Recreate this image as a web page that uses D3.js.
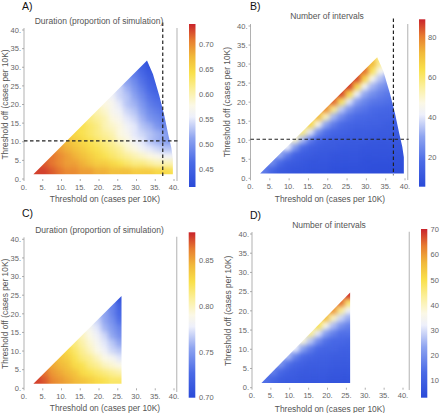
<!DOCTYPE html>
<html><head><meta charset="utf-8">
<script src="https://cdn.jsdelivr.net/npm/d3@7/dist/d3.min.js"></script>
<style>body{margin:0;background:#fff}svg{display:block}text{font-family:"Liberation Sans",Arial,sans-serif}</style>
</head><body>
<svg id="c" width="440" height="413"></svg>
<script>
const _ = null;
// bin lower edges (cases per 10K), bin width 2
const binSize = 2;
const onBins  = [2.5,4.5,6.5,8.5,10.5,12.5,14.5,16.5,18.5,20.5,22.5,24.5,26.5,28.5,30.5,32.5,34.5,36.5,38.5];
const offBins = [1.25,3.25,5.25,7.25,9.25,11.25,13.25,15.25,17.25,19.25,21.25,23.25,25.25,27.25,29.25,31.25];

// data region outlines [on, off]
const regionAB = [[2.5,1.25],[32.8,31.8],[34.4,28.1],[36.1,22.3],[37.4,17.1],[38.5,11.8],[39.3,8.3],[39.7,5.5],[39.7,1.25]];
const regionCD = [[2.5,1.25],[26,24.75],[26,1.25]];

// A) duration (rows = off bins, cols = on bins)
const durationA = [
 [.73,.73,.72,.71,.70,.70,.69,.69,.68,.68,.67,.67,.67,.66,.66,.66,.65,.65,.64],
 [_,.72,.71,.70,.69,.69,.68,.67,.66,.66,.65,.64,.63,.62,.62,.61,.60,.60,.60],
 [_,_,.71,.70,.69,.68,.67,.66,.65,.64,.63,.62,.61,.60,.59,.58,.57,.56,.56],
 [_,_,_,.69,.68,.67,.66,.65,.64,.63,.62,.61,.59,.58,.56,.55,.54,.53,.53],
 [_,_,_,_,.67,.66,.65,.64,.63,.62,.61,.59,.58,.56,.55,.53,.52,.51,.50],
 [_,_,_,_,_,.65,.64,.63,.62,.61,.60,.58,.57,.55,.54,.53,.52,.51,.50],
 [_,_,_,_,_,_,.64,.63,.62,.60,.59,.58,.56,.55,.53,.52,.50,.49],
 [_,_,_,_,_,_,_,.62,.61,.60,.58,.57,.55,.54,.52,.50,.49,.48],
 [_,_,_,_,_,_,_,_,.60,.59,.57,.56,.54,.53,.51,.49,.48,.47],
 [_,_,_,_,_,_,_,_,_,.58,.57,.55,.53,.52,.50,.48,.47,.46],
 [_,_,_,_,_,_,_,_,_,_,.56,.54,.53,.51,.49,.47,.46],
 [_,_,_,_,_,_,_,_,_,_,_,.54,.52,.50,.48,.46,.45],
 [_,_,_,_,_,_,_,_,_,_,_,_,.51,.49,.47,.45,.44],
 [_,_,_,_,_,_,_,_,_,_,_,_,_,.48,.46,.44],
 [_,_,_,_,_,_,_,_,_,_,_,_,_,_,.45,.43],
 [_,_,_,_,_,_,_,_,_,_,_,_,_,_,_,.42]
];
// B) number of intervals
const intervalsB = [
 [22,16,12,11,10,10,9,9,9,8,8,8,8,8,7,7,7,7,7],
 [_,26,18,13,12,11,10,10,10,9,9,9,9,8,8,8,8,8,8],
 [_,_,32,22,15,13,12,11,11,10,10,10,10,9,9,9,9,9,9],
 [_,_,_,42,28,18,14,13,12,12,11,11,11,10,10,10,10,10,10],
 [_,_,_,_,50,34,22,16,14,13,13,12,12,12,11,11,11,11,11],
 [_,_,_,_,_,58,40,26,19,16,15,14,13,13,13,12,12,12,12],
 [_,_,_,_,_,_,66,46,30,22,18,16,15,15,14,14,13,13],
 [_,_,_,_,_,_,_,72,52,33,25,20,18,17,16,15,15,14],
 [_,_,_,_,_,_,_,_,78,57,36,27,22,20,18,17,16,16],
 [_,_,_,_,_,_,_,_,_,83,62,40,29,24,21,20,19,18],
 [_,_,_,_,_,_,_,_,_,_,86,65,42,31,26,23,21],
 [_,_,_,_,_,_,_,_,_,_,_,87,66,44,33,28,25],
 [_,_,_,_,_,_,_,_,_,_,_,_,86,66,45,35,30],
 [_,_,_,_,_,_,_,_,_,_,_,_,_,82,62,44],
 [_,_,_,_,_,_,_,_,_,_,_,_,_,_,72,56],
 [_,_,_,_,_,_,_,_,_,_,_,_,_,_,_,58]
];
// C) duration
const durationC = [
 [.875,.87,.86,.855,.85,.845,.84,.835,.83,.825,.82,.82],
 [_,.865,.855,.85,.845,.84,.83,.825,.82,.815,.81,.805],
 [_,_,.85,.845,.84,.83,.825,.815,.81,.80,.795,.79],
 [_,_,_,.84,.835,.825,.815,.81,.80,.79,.785,.775],
 [_,_,_,_,.83,.82,.81,.80,.79,.78,.77,.765],
 [_,_,_,_,_,.815,.805,.795,.785,.775,.765,.755],
 [_,_,_,_,_,_,.80,.79,.78,.77,.755,.745],
 [_,_,_,_,_,_,_,.785,.775,.76,.75,.74],
 [_,_,_,_,_,_,_,_,.77,.755,.745,.73],
 [_,_,_,_,_,_,_,_,_,.755,.74,.725],
 [_,_,_,_,_,_,_,_,_,_,.74,.72],
 [_,_,_,_,_,_,_,_,_,_,_,.71]
];
// D) number of intervals
const intervalsD = [
 [14,11,9,8,8,7,7,7,7,6,6,6],
 [_,17,12,10,9,8,8,8,8,7,7,7],
 [_,_,21,14,11,10,9,9,9,8,8,8],
 [_,_,_,26,17,13,11,10,10,9,9,9],
 [_,_,_,_,32,22,16,12,11,11,10,10],
 [_,_,_,_,_,38,27,19,14,12,12,11],
 [_,_,_,_,_,_,44,31,22,17,14,14],
 [_,_,_,_,_,_,_,50,36,26,20,17],
 [_,_,_,_,_,_,_,_,56,40,29,24],
 [_,_,_,_,_,_,_,_,_,61,44,32],
 [_,_,_,_,_,_,_,_,_,_,65,47],
 [_,_,_,_,_,_,_,_,_,_,_,69]
];

const axisTicks = [0,5,10,15,20,25,30,35,40];
const thresholdOn = 37, thresholdOff = 10.25;
const legendA = {domain:[0.414,0.741], ticks:[0.45,0.50,0.55,0.60,0.65,0.70], fmt:d3.format(".2f")};
const legendB = {domain:[5.5,89], ticks:[20,40,60,80], fmt:d3.format("d")};
const legendC = {domain:[0.70,0.881], ticks:[0.70,0.75,0.80,0.85], fmt:d3.format(".2f")};
const legendD = {domain:[2.9,70.3], ticks:[10,20,30,40,50,60,70], fmt:d3.format("d")};

// Temperature-map style palette
const palT = [0,0.15,0.30,0.43,0.50,0.60,0.70,0.80,0.90,1];
const palC = ["#2a4ad8","#4a6ae6","#8ea4f0","#eef0fb","#fbf8e6","#fbef9a","#f9e04a","#f1b93a","#e77c30","#c9232b"];
const pal = d3.scaleLinear().domain(palT).range(palC).clamp(true);

const svg = d3.select("#c");
const defs = svg.append("defs");
const flt = defs.append("filter").attr("id","smooth").attr("color-interpolation-filters","sRGB")
  .attr("x","-10%").attr("y","-10%").attr("width","120%").attr("height","120%");
flt.append("feGaussianBlur").attr("stdDeviation",2.6);
flt.append("feComponentTransfer").append("feFuncA").attr("type","table").attr("tableValues","0 1 1 1 1 1 1 1 1 1 1 1");
const grad = defs.append("linearGradient").attr("id","cbar").attr("x1",0).attr("y1",1).attr("x2",0).attr("y2",0);
palT.forEach((t,i)=>grad.append("stop").attr("offset",t).attr("stop-color",palC[i]));

function panel(p){
  const x = d3.scaleLinear().domain([0,40]).range(p.xr);
  const y = d3.scaleLinear().domain([0,40]).range(p.yr);
  const [d0,d1] = p.legend.domain;
  const col = v => pal((v-d0)/(d1-d0));

  defs.append("clipPath").attr("id","clip"+p.id).append("path")
    .attr("d", d3.line().x(d=>x(d[0])).y(d=>y(d[1]))(p.region)+"Z");
  const cells = [];
  p.values.forEach((row,j)=>row.forEach((v,i)=>{ if(v!=null) cells.push({i,j,v}); }));
  svg.append("g").attr("clip-path",`url(#clip${p.id})`)
    .append("g").attr("filter","url(#smooth)")
    .selectAll("rect").data(cells).join("rect")
    .attr("x",d=>x(onBins[d.i])).attr("y",d=>y(offBins[d.j]+binSize))
    .attr("width",d=>x(onBins[d.i]+binSize)-x(onBins[d.i])+0.4)
    .attr("height",d=>y(offBins[d.j])-y(offBins[d.j]+binSize)+0.4)
    .attr("fill",d=>col(d.v));

  const ax = svg.append("g");
  ax.append("line").attr("x1",x(0)).attr("x2",x(0)).attr("y1",y(0)).attr("y2",y(40)-2)
    .attr("stroke","#a8a8a8").attr("stroke-width",0.9);
  ax.selectAll(".yt").data(axisTicks).join("line").attr("x1",x(0)-2).attr("x2",x(0))
    .attr("y1",d=>y(d)).attr("y2",d=>y(d)).attr("stroke","#999").attr("stroke-width",0.8);
  ax.selectAll(".xt").data(axisTicks).join("line").attr("y1",y(0)).attr("y2",y(0)+2)
    .attr("x1",d=>x(d)).attr("x2",d=>x(d)).attr("stroke","#999").attr("stroke-width",0.8);
  ax.selectAll(".yl").data(axisTicks).join("text").attr("x",x(0)-3).attr("y",d=>y(d)+2.7)
    .attr("text-anchor","end").attr("font-size",7.5).attr("fill","#666").text(d=>d+".");
  ax.selectAll(".xl").data(axisTicks).join("text").attr("x",d=>x(d)).attr("y",y(0)+10.5)
    .attr("text-anchor","middle").attr("font-size",7.5).attr("fill","#666").text(d=>d+".");
  // right frame line
  svg.append("line").attr("x1",p.grayX).attr("x2",p.grayX).attr("y1",p.grayY[0]).attr("y2",p.grayY[1])
    .attr("stroke","#c4c4c4").attr("stroke-width",1.3);

  if(p.dashed){
    svg.append("line").attr("x1",x(thresholdOn)).attr("x2",x(thresholdOn)).attr("y1",y(42)).attr("y2",y(0.8))
      .attr("stroke","#222").attr("stroke-width",1.2).attr("stroke-dasharray","3.5,2.5");
    svg.append("line").attr("x1",x(0)).attr("x2",p.grayX+1).attr("y1",y(thresholdOff)).attr("y2",y(thresholdOff))
      .attr("stroke","#222").attr("stroke-width",1.2).attr("stroke-dasharray","3.5,2.5");
  }

  // titles
  svg.append("text").attr("x",p.tx).attr("y",p.ty).attr("text-anchor","middle").attr("font-size",8.5)
    .attr("fill","#555").text(p.title);
  svg.append("text").attr("x",p.lx).attr("y",p.ly).attr("font-size",10.5).attr("fill","#111").text(p.label);
  svg.append("text").attr("x",p.xtx).attr("y",p.xty).attr("text-anchor","middle").attr("font-size",8.4)
    .attr("fill","#555").text("Threshold on (cases per 10K)");
  svg.append("text").attr("transform",`translate(${p.ytx},${(p.yr[0]+p.yr[1])/2}) rotate(-90)`)
    .attr("text-anchor","middle").attr("font-size",8.4).attr("fill","#555").text("Threshold off (cases per 10K)");

  // colorbar
  const cb = p.cb;
  svg.append("rect").attr("x",cb.x).attr("y",cb.y0).attr("width",cb.w).attr("height",cb.y1-cb.y0).attr("fill","url(#cbar)");
  const cy = d3.scaleLinear().domain(p.legend.domain).range([cb.y1,cb.y0]);
  svg.append("g").selectAll("text").data(p.legend.ticks).join("text")
    .attr("x",cb.lx).attr("y",d=>cy(d)+2.7).attr("font-size",7.5).attr("fill","#666").text(d=>p.legend.fmt(d));
}

panel({id:"A", xr:[24,174], yr:[179,30], region:regionAB, values:durationA, legend:legendA, dashed:true,
  grayX:177, grayY:[28,181], title:"Duration (proportion of simulation)", tx:99, ty:24, label:"A)", lx:22, ly:10,
  xtx:105, xty:202, ytx:7.5, cb:{x:189,w:6.5,y0:24,y1:187,lx:199}});
panel({id:"B", xr:[250.5,405], yr:[178.3,26], region:regionAB, values:intervalsB, legend:legendB, dashed:true,
  grayX:407.7, grayY:[24,180], title:"Number of intervals", tx:327, ty:19, label:"B)", lx:250, ly:10,
  xtx:330, xty:202, ytx:229.5, cb:{x:419,w:6.3,y0:19.3,y1:186.7,lx:428}});
panel({id:"C", xr:[24,174], yr:[388.3,239.3], region:regionCD, values:durationC, legend:legendC, dashed:false,
  grayX:176.7, grayY:[236.7,392], title:"Duration (proportion of simulation)", tx:99.5, ty:233, label:"C)", lx:22, ly:217,
  xtx:105, xty:411, ytx:8, cb:{x:188.7,w:6.6,y0:232.3,y1:397.7,lx:199}});
panel({id:"D", xr:[252,403], yr:[387.7,234], region:regionCD, values:intervalsD, legend:legendD, dashed:false,
  grayX:409.3, grayY:[231.7,390], title:"Number of intervals", tx:329, ty:228, label:"D)", lx:250, ly:219,
  xtx:330, xty:412, ytx:231, cb:{x:421,w:6.3,y0:229,y1:397.7,lx:430.5}});
</script>
</body></html>
